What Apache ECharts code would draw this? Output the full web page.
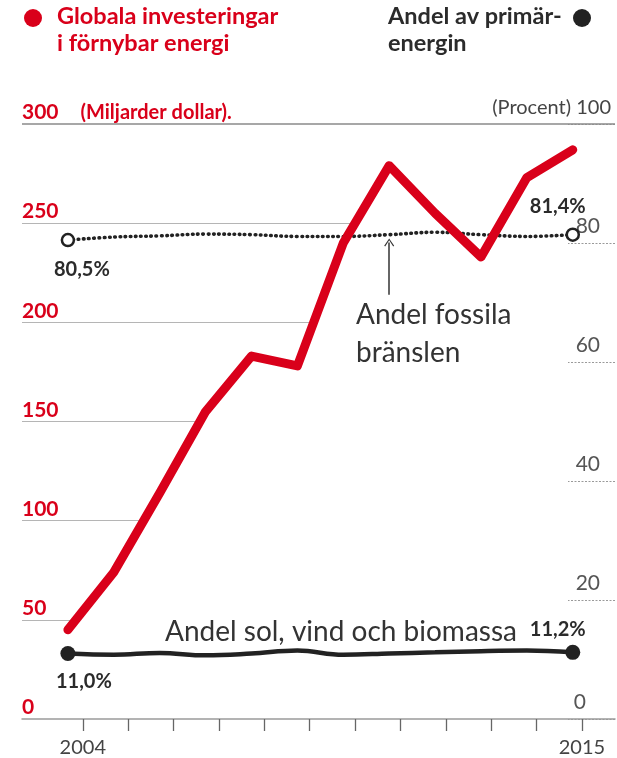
<!DOCTYPE html>
<html>
<head>
<meta charset="utf-8">
<script src="https://cdn.jsdelivr.net/npm/echarts@6/dist/echarts.min.js"></script>
<style>
  html, body { margin: 0; padding: 0; background: #fff; }
  #chart { width: 617px; height: 758px; }
</style>
</head>
<body>
<div id="chart"></div>
<script>
// data
var years = [2004, 2005, 2006, 2007, 2008, 2009, 2010, 2011, 2012, 2013, 2014, 2015];
var investeringar = [45, 74, 114, 155, 183, 178, 240, 279, 255, 233, 273, 287];   // miljarder dollar
var fossila = [80.5, 81.0, 81.2, 81.5, 81.4, 81.1, 81.1, 81.4, 81.8, 81.4, 81.1, 81.4]; // procent
var solVind = [11.0, 10.8, 11.1, 10.7, 11.0, 11.5, 10.8, 11.0, 11.2, 11.4, 11.5, 11.2]; // procent
var leftTicks = [0, 50, 100, 150, 200, 250, 300];
var xTickYears = [2004, 2005, 2006, 2007, 2008, 2009, 2010, 2011, 2012, 2013, 2014, 2015];
var xLabelYears = [2004, 2015];

var RED = "#d9001a";
var DARK = "#2b2b2b";
var FONT = "Lato";

var dataMin = 2003, dataMax = 2015.92;

function pct(v) {
  return v.toFixed(1).replace(".", ",") + "%";
}

// gridlines run from the left edge until the red line first reaches them
function firstCross(level) {
  for (var i = 1; i < investeringar.length; i++) {
    var a = investeringar[i - 1], b = investeringar[i];
    if (a < level && b >= level) {
      return years[i - 1] + (level - a) / (b - a) * (years[i] - years[i - 1]);
    }
  }
  return dataMax;
}

var gridLines = [];
leftTicks.forEach(function (lv) {
  if (lv === 0) return;
  gridLines.push([
    { coord: [dataMin, lv], lineStyle: { color: lv === 300 ? "#8a8a8a" : "#b5b5b5", width: lv === 300 ? 1.5 : 1 } },
    { coord: [firstCross(lv), lv] }
  ]);
});

function endPoints(vals, opts) {
  return vals.map(function (v, i) {
    var item = { value: [years[i], v] };
    if (i === 0) {
      item.symbol = opts.symbol; item.symbolSize = opts.size;
      item.label = { show: true, position: opts.firstPos, offset: opts.firstOff, formatter: pct(v) };
    } else if (i === vals.length - 1) {
      item.symbol = opts.symbol; item.symbolSize = opts.size;
      item.label = { show: true, position: opts.lastPos, offset: opts.lastOff, formatter: pct(v) };
    }
    return item;
  });
}

var labelStyle = { color: DARK, fontFamily: FONT, fontWeight: "bold", fontSize: 20 };

var myChart = echarts.init(document.getElementById("chart"));
var option = {
  animation: false,
  textStyle: { fontFamily: FONT },
  grid: { left: 22, right: 2, top: 124, bottom: 38, containLabel: false },
  xAxis: [
    {
      type: "value",
      min: 2002.66,
      max: 2015.73,
      position: "bottom",
      axisLine: { lineStyle: { color: "#9a9a9a", width: 1.5 } },
      axisTick: { show: true, length: 12, customValues: xTickYears, lineStyle: { color: "#666", width: 1.3 } },
      axisLabel: {
        customValues: xLabelYears, margin: 19, color: "#444", fontSize: 20, fontFamily: FONT,
        formatter: function (v) { return String(v); }
      },
      splitLine: { show: false }
    },
    {
      type: "value",
      min: dataMin,
      max: dataMax,
      show: false
    }
  ],
  yAxis: [
    {
      type: "value",
      min: 0,
      max: 300,
      interval: 50,
      position: "left",
      axisLine: { show: false },
      axisTick: { show: false },
      splitLine: { show: false },
      axisLabel: {
        inside: true,
        margin: 0,
        verticalAlign: "bottom",
        padding: [0, 0, 1, 0],
        formatter: function (v) {
          return v === 300 ? "{a|300}{b|(Miljarder dollar).}" : "{a|" + v + "}";
        },
        rich: {
          a: { color: RED, fontWeight: "bold", fontSize: 21, fontFamily: FONT },
          b: { color: RED, fontWeight: "bold", fontSize: 20, fontFamily: FONT, padding: [0, 0, 0, 22] }
        }
      }
    },
    {
      type: "value",
      min: 0,
      max: 100,
      interval: 20,
      position: "right",
      axisLine: { show: false },
      axisTick: { show: true, inside: true, length: 47, lineStyle: { color: "#9a9a9a", width: 1, type: [2, 1.5] } },
      splitLine: { show: false },
      axisLabel: {
        inside: true,
        margin: 4,
        verticalAlign: "bottom",
        padding: [0, 0, 6, 0],
        formatter: function (v) {
          if (v === 100) return "{p|(Procent) 100}";
          if (v === 0) return "{z|0}";
          return "{n|" + v + "}";
        },
        rich: {
          p: { color: "#444", fontSize: 20, fontFamily: FONT },
          n: { color: "#555", fontSize: 21, fontFamily: FONT, padding: [0, 11, 0, 0] },
          z: { color: "#555", fontSize: 21, fontFamily: FONT, padding: [0, 25, 0, 0] }
        }
      }
    }
  ],
  series: [
    {
      name: "Andel fossila bränslen",
      type: "line",
      xAxisIndex: 1,
      yAxisIndex: 1,
      smooth: 0.4,
      symbol: "none",
      z: 3,
      lineStyle: { color: "#222", width: 3.6, type: [0.6, 4.6], cap: "round" },
      itemStyle: { color: "#fff", borderColor: "#222", borderWidth: 2.5 },
      label: labelStyle,
      data: endPoints(fossila, {
        symbol: "circle", size: 12,
        firstPos: "bottom", firstOff: [14, 7],
        lastPos: "top", lastOff: [-15, -6]
      }),
      markLine: {
        silent: true,
        symbol: ["none", "path://M0,10 L5,0 L10,10 L9,10.8 L5,2.4 L1,10.8 Z"],
        symbolSize: [10, 8],
        label: { show: false },
        lineStyle: { color: "#333", width: 1.5, type: "solid" },
        data: [[{ coord: [2011, 71.3] }, { coord: [2011, 80.1] }]]
      }
    },
    {
      name: "Andel sol, vind och biomassa",
      type: "line",
      xAxisIndex: 1,
      yAxisIndex: 1,
      smooth: 0.4,
      symbol: "none",
      z: 3,
      lineStyle: { color: "#222", width: 4.5 },
      itemStyle: { color: "#222" },
      label: labelStyle,
      data: endPoints(solVind, {
        symbol: "circle", size: 15,
        firstPos: "bottom", firstOff: [16, 5],
        lastPos: "top", lastOff: [-15, 0]
      })
    },
    {
      name: "Globala investeringar i förnybar energi",
      type: "line",
      xAxisIndex: 1,
      yAxisIndex: 0,
      symbol: "none",
      z: 5,
      lineStyle: { color: RED, width: 9, cap: "round", join: "round" },
      data: years.map(function (y, i) { return [y, investeringar[i]]; }),
      markLine: {
        silent: true,
        symbol: "none",
        z: 1,
        label: { show: false },
        lineStyle: { type: "solid" },
        data: gridLines
      }
    }
  ],
  graphic: [
    { type: "circle", shape: { cx: 33, cy: 18, r: 9 }, style: { fill: RED } },
    {
      type: "text", left: 57, top: 3,
      style: { text: "Globala investeringar\ni förnybar energi", fill: RED, font: "bold 23.5px Lato", lineHeight: 27 }
    },
    { type: "circle", shape: { cx: 582, cy: 18, r: 9 }, style: { fill: "#222" } },
    {
      type: "text", left: 388, top: 3,
      style: { text: "Andel av primär-\nenergin", fill: DARK, font: "bold 23.5px Lato", lineHeight: 27 }
    },
    {
      type: "text", left: 356, top: 296,
      style: { text: "Andel fossila\nbränslen", fill: "#333", font: "28px Lato", lineHeight: 38 }
    },
    {
      type: "text", left: 165, top: 618,
      style: { text: "Andel sol, vind och biomassa", fill: "#333", font: "28px Lato" }
    }
  ]
};
myChart.setOption(option);
</script>
</body>
</html>
